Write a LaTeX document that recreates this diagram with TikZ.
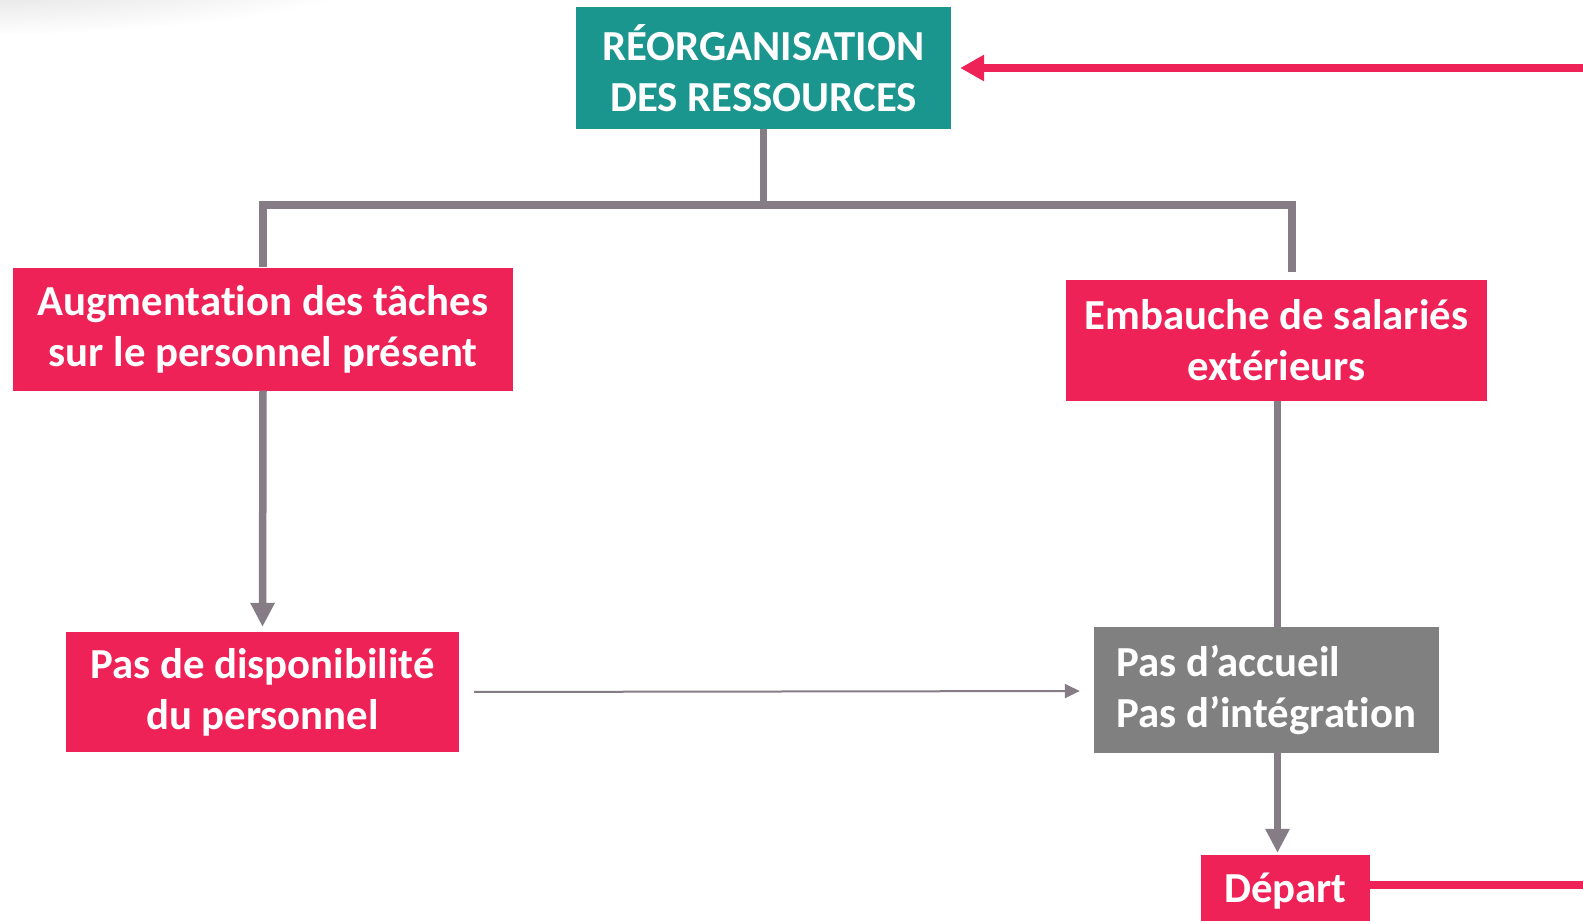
\documentclass[tikz,border=0pt]{standalone}
\usepackage{fontspec}
\setmainfont{Carlito}[Ligatures=NoCommon]
\usetikzlibrary{arrows.meta,fadings}
\definecolor{teal}{HTML}{1B968F}
\definecolor{rose}{HTML}{EE2257}
\definecolor{boxgray}{HTML}{808080}
\definecolor{wire}{HTML}{857C86}
\tikzfading[name=smudge, inner color=transparent!15, outer color=transparent!100]
\tikzset{
  card/.style={draw=none, inner sep=0pt, align=center, text=white,
    font=\bfseries\fontsize{42.8}{51}\selectfont},
  redcard/.style={card, fill=rose},
  tealcard/.style={card, fill=teal},
  graycard/.style={card, fill=boxgray, align=flush left},
  wireline/.style={draw=wire, line width=7.5pt},
  wirearrow/.style={wireline, -{Triangle[length=24pt,width=23pt]}},
  thinarrow/.style={draw=wire, line width=2pt, -{Triangle[length=15pt,width=14pt]}},
  roseline/.style={draw=rose, line width=7.5pt},
  rosearrow/.style={roseline, -{Triangle[length=24pt,width=25pt]}},
}
\begin{document}
\begin{tikzpicture}[x=1pt,y=-1pt]
  \useasboundingbox (0,0) rectangle (1583,921);
  \fill[white] (0,0) rectangle (1583,921);
  % soft shadow in the upper left corner
  \fill[gray!40, path fading=smudge] (-40,-40) ellipse [x radius=440, y radius=75];

  % boxes
  \node[tealcard, minimum width=375pt, minimum height=122pt] (top) at (763.5,68)
    {RÉORGANISATION\\DES RESSOURCES};
  \node[redcard, minimum width=500pt, minimum height=123pt] (aug) at (263,329)
    {Augmentation des tâches\\sur le personnel présent};
  \node[redcard, minimum width=421pt, minimum height=121pt] (emb) at (1276.5,340.5)
    {Embauche de salariés\\extérieurs};
  \node[redcard, minimum width=393pt, minimum height=120pt] (dispo) at (262.5,692)
    {Pas de disponibilité\\du personnel};
  \node[graycard, minimum width=345pt, minimum height=126pt, text width=300pt]
    (accueil) at (1266.5,690) {Pas d’accueil\\Pas d’intégration};
  \node[redcard, minimum width=169pt, minimum height=71pt, text height=24pt, text depth=1pt]
    (depart) at (1285.5,890.5) {Départ};

  % tree under the top box
  \coordinate (fork) at (763.5,205);
  \coordinate (rightdrop) at (1292,272);
  \draw[wireline] (top.south) -- (fork);
  \draw[wireline] (aug.north -| 263,0) |- (fork) -| (rightdrop);

  % vertical flows
  \draw[wirearrow, shorten >=5pt] (aug.south) -- (dispo.north);
  \coordinate (col) at (1277.5,0);
  \draw[wireline] (emb.south -| col) -- (accueil.north -| col);
  \draw[wirearrow, shorten >=2pt] (accueil.south -| col) -- (depart.north -| col);

  % horizontal flow
  \draw[thinarrow, shorten <=15pt, shorten >=14pt] (dispo.east) -- ([yshift=-1pt]accueil.west);

  % loop back to the top box
  \coordinate (outR) at (1583,885);
  \coordinate (inR) at (1583,68);
  \draw[roseline] (depart.east |- outR) -- (outR);
  \draw[rosearrow, shorten >=9pt] (inR) -- (top.east);
\end{tikzpicture}
\end{document}
